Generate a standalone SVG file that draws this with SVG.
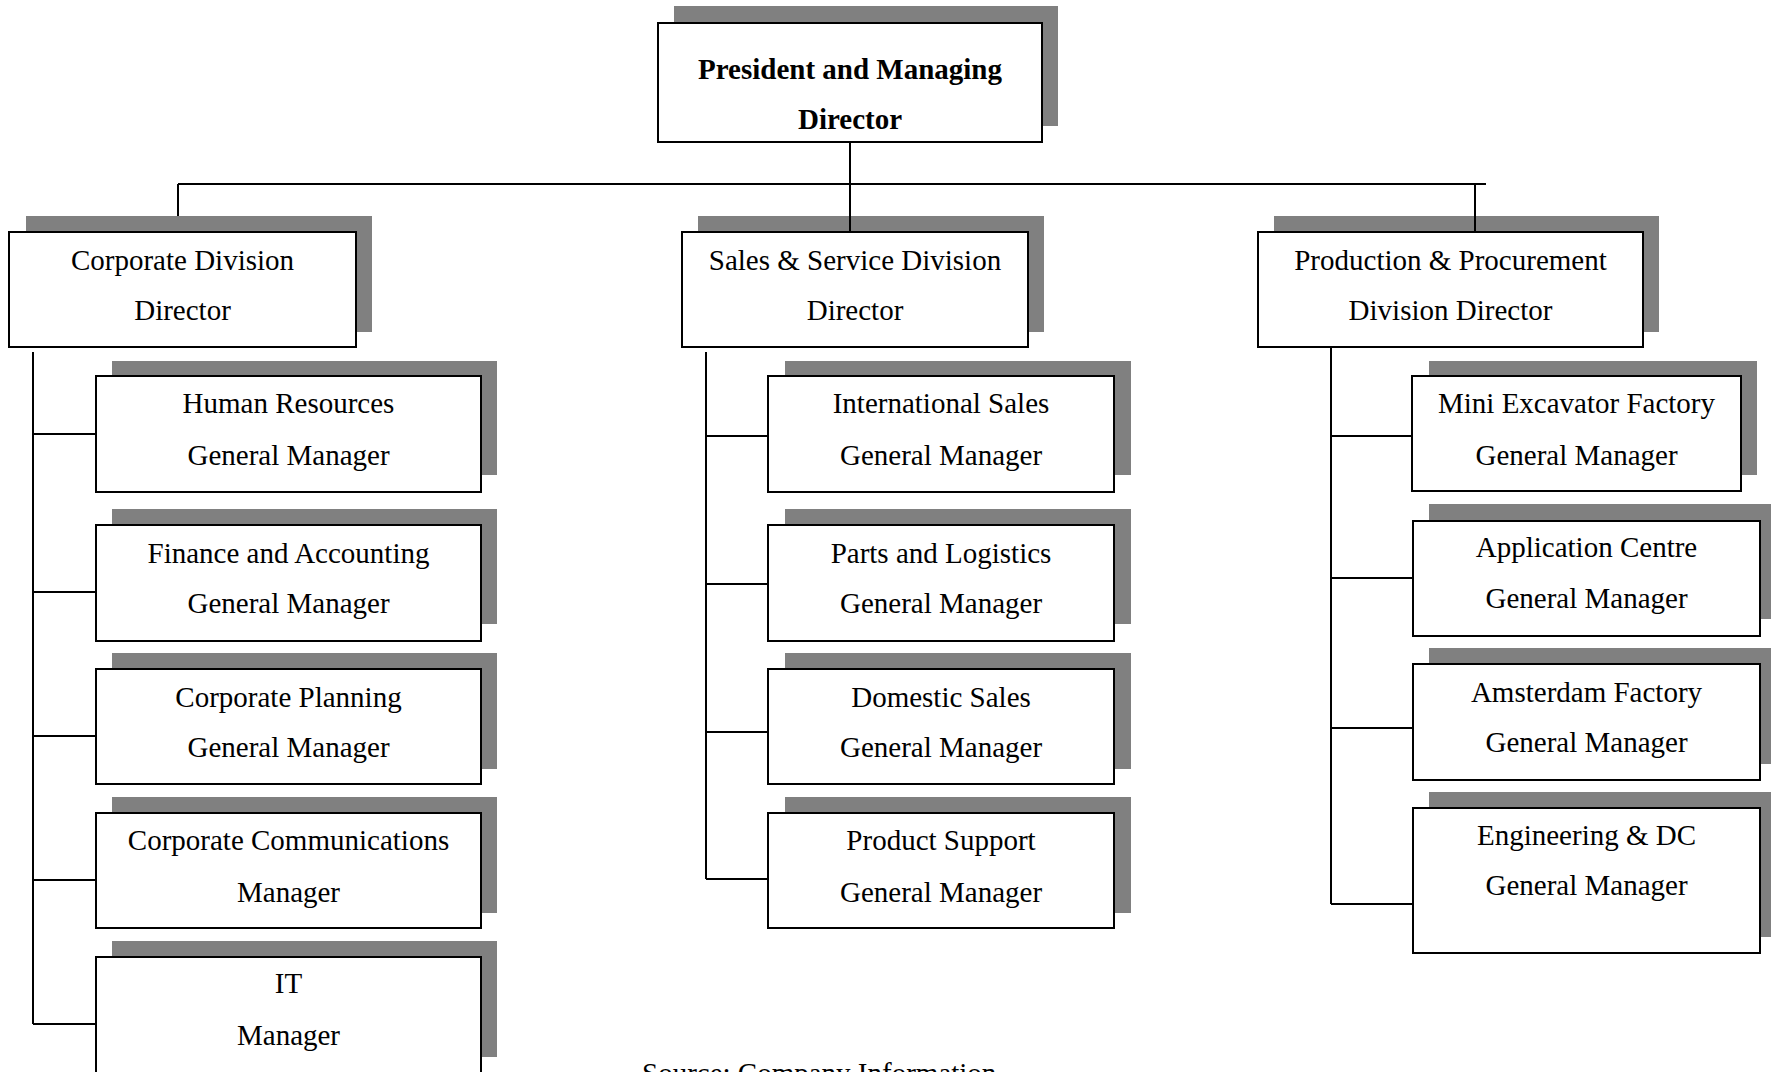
<svg xmlns="http://www.w3.org/2000/svg" width="1771" height="1072" viewBox="0 0 1771 1072">
<style>
.sh{fill:#808080;stroke:none}
.bx{fill:#fff;stroke:#000;stroke-width:2}
.t{font-family:"Liberation Serif","Times New Roman",serif;font-size:29px;fill:#000;text-anchor:middle}
.b{font-weight:bold}
.ln{stroke:#000;stroke-width:2;fill:none}
</style>
<rect width="1771" height="1072" fill="#fff"/>
<g id="president">
<rect class="sh" x="674" y="6" width="384" height="120"/>
<rect class="bx" x="658" y="23" width="384" height="119"/>
<text class="t b" x="850" y="79">President and Managing</text>
<text class="t b" x="850" y="129">Director</text>
</g>
<g id="corporate-division">
<rect class="sh" x="26" y="216" width="346" height="116"/>
<rect class="bx" x="9" y="232" width="347" height="115"/>
<text class="t" x="182.5" y="270">Corporate Division</text>
<text class="t" x="182.5" y="320">Director</text>
</g>
<g id="sales-division">
<rect class="sh" x="698" y="216" width="346" height="116"/>
<rect class="bx" x="682" y="232" width="346" height="115"/>
<text class="t" x="855" y="270">Sales &amp; Service Division</text>
<text class="t" x="855" y="320">Director</text>
</g>
<g id="production-division">
<rect class="sh" x="1274" y="216" width="385" height="116"/>
<rect class="bx" x="1258" y="232" width="385" height="115"/>
<text class="t" x="1450.5" y="270">Production &amp; Procurement</text>
<text class="t" x="1450.5" y="320">Division Director</text>
</g>
<g id="human-resources">
<rect class="sh" x="112" y="361" width="385" height="114"/>
<rect class="bx" x="96" y="376" width="385" height="116"/>
<text class="t" x="288.5" y="413">Human Resources</text>
<text class="t" x="288.5" y="465">General Manager</text>
</g>
<g id="finance">
<rect class="sh" x="112" y="509" width="385" height="115"/>
<rect class="bx" x="96" y="525" width="385" height="116"/>
<text class="t" x="288.5" y="563">Finance and Accounting</text>
<text class="t" x="288.5" y="613">General Manager</text>
</g>
<g id="corporate-planning">
<rect class="sh" x="112" y="653" width="385" height="116"/>
<rect class="bx" x="96" y="669" width="385" height="115"/>
<text class="t" x="288.5" y="707">Corporate Planning</text>
<text class="t" x="288.5" y="757">General Manager</text>
</g>
<g id="corporate-communications">
<rect class="sh" x="112" y="797" width="385" height="116"/>
<rect class="bx" x="96" y="813" width="385" height="115"/>
<text class="t" x="288.5" y="850">Corporate Communications</text>
<text class="t" x="288.5" y="902">Manager</text>
</g>
<g id="it">
<rect class="sh" x="112" y="941" width="385" height="116"/>
<rect class="bx" x="96" y="957" width="385" height="130"/>
<text class="t" x="288.5" y="993">IT</text>
<text class="t" x="288.5" y="1045">Manager</text>
</g>
<g id="international-sales">
<rect class="sh" x="785" y="361" width="346" height="114"/>
<rect class="bx" x="768" y="376" width="346" height="116"/>
<text class="t" x="941" y="413">International Sales</text>
<text class="t" x="941" y="465">General Manager</text>
</g>
<g id="parts-logistics">
<rect class="sh" x="785" y="509" width="346" height="115"/>
<rect class="bx" x="768" y="525" width="346" height="116"/>
<text class="t" x="941" y="563">Parts and Logistics</text>
<text class="t" x="941" y="613">General Manager</text>
</g>
<g id="domestic-sales">
<rect class="sh" x="785" y="653" width="346" height="116"/>
<rect class="bx" x="768" y="669" width="346" height="115"/>
<text class="t" x="941" y="707">Domestic Sales</text>
<text class="t" x="941" y="757">General Manager</text>
</g>
<g id="product-support">
<rect class="sh" x="785" y="797" width="346" height="116"/>
<rect class="bx" x="768" y="813" width="346" height="115"/>
<text class="t" x="941" y="850">Product Support</text>
<text class="t" x="941" y="902">General Manager</text>
</g>
<g id="mini-excavator">
<rect class="sh" x="1429" y="361" width="328" height="114"/>
<rect class="bx" x="1412" y="376" width="329" height="115"/>
<text class="t" x="1576.5" y="413">Mini Excavator Factory</text>
<text class="t" x="1576.5" y="465">General Manager</text>
</g>
<g id="application-centre">
<rect class="sh" x="1429" y="504" width="350" height="115"/>
<rect class="bx" x="1413" y="521" width="347" height="115"/>
<text class="t" x="1586.5" y="557">Application Centre</text>
<text class="t" x="1586.5" y="608">General Manager</text>
</g>
<g id="amsterdam-factory">
<rect class="sh" x="1429" y="648" width="350" height="116"/>
<rect class="bx" x="1413" y="664" width="347" height="116"/>
<text class="t" x="1586.5" y="702">Amsterdam Factory</text>
<text class="t" x="1586.5" y="752">General Manager</text>
</g>
<g id="engineering-dc">
<rect class="sh" x="1429" y="792" width="350" height="145"/>
<rect class="bx" x="1413" y="808" width="347" height="145"/>
<text class="t" x="1586.5" y="845">Engineering &amp; DC</text>
<text class="t" x="1586.5" y="895">General Manager</text>
</g>
<g id="connectors">
<path class="ln" d="M850 142V184M178 184H1486M178 184V216M850 184V232M1475 184V232"/>
<path class="ln" d="M33 352V1024M33 434H96M33 592H96M33 736H96M33 880H96M33 1024H96"/>
<path class="ln" d="M706 352V879M706 436H768M706 584H768M706 732H768M706 879H768"/>
<path class="ln" d="M1331 347V904M1331 436H1412M1331 578H1413M1331 728H1413M1331 904H1413"/>
</g>
<text class="t" x="642" y="1083" style="text-anchor:start">Source: Company Information</text>
</svg>
